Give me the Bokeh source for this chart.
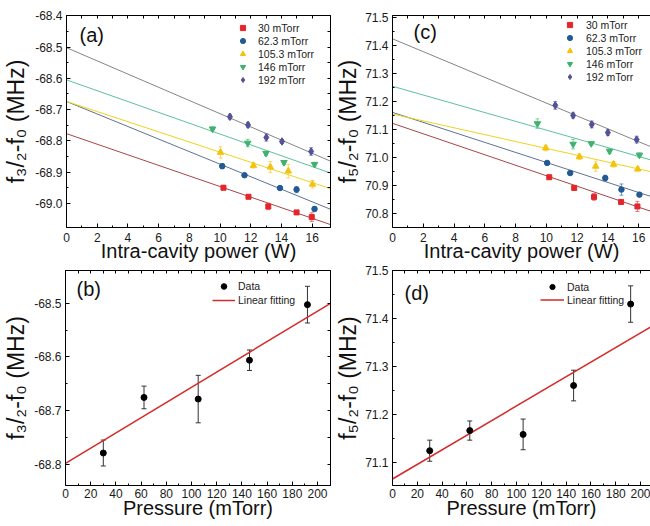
import numpy as np
from bokeh.plotting import figure
from bokeh.models import (ColumnDataSource, Whisker, TeeHead, Label, Legend, LegendItem,
                          LinearAxis, Range1d, FixedTicker, PrintfTickFormatter)
from bokeh.layouts import column, row
from bokeh.embed import file_html
from bokeh.resources import INLINE

FONT = "Liberation Sans"

# ---------------- data ----------------
series_labels = ["30 mTorr", "62.3 mTorr", "105.3 mTorr", "146 mTorr", "192 mTorr"]
pressure = [30, 62.3, 105.3, 146, 192]

# panel (a): f3/2 - f0 vs intra-cavity power
a_power = [
    [10.22, 11.85, 13.14, 14.98, 15.97],
    [10.14, 11.59, 13.90, 14.98, 16.15],
    [10.03, 12.17, 13.27, 14.44, 16.02],
    [9.51, 11.80, 12.99, 14.16, 16.15],
    [10.64, 11.82, 13.01, 14.03, 15.93],
]
a_shift = [
    [-68.950, -68.979, -69.010, -69.029, -69.044],
    [-68.881, -68.910, -68.951, -68.956, -69.018],
    [-68.837, -68.879, -68.884, -68.897, -68.939],
    [-68.762, -68.807, -68.840, -68.869, -68.875],
    [-68.723, -68.749, -68.789, -68.802, -68.834],
]
a_err = [
    [0.007, 0.004, 0.010, 0.006, 0.014],
    [0.008, 0.005, 0.004, 0.010, 0.008],
    [0.018, 0.008, 0.018, 0.022, 0.012],
    [0.007, 0.012, 0.007, 0.006, 0.006],
    [0.008, 0.008, 0.012, 0.006, 0.012],
]
a_fit_intercept = [-68.777, -68.674, -68.674, -68.605, -68.502]
a_fit_slope = [-0.01693, -0.02007, -0.01623, -0.01734, -0.02112]

# panel (c): f5/2 - f0 vs intra-cavity power
c_power = [
    [10.19, 11.81, 13.10, 14.86, 15.92],
    [10.05, 11.55, 13.83, 14.88, 16.05],
    [9.96, 12.15, 13.21, 14.37, 15.94],
    [9.42, 11.74, 12.92, 14.11, 16.05],
    [10.58, 11.74, 12.95, 14.00, 15.87],
]
c_shift = [
    [70.930, 70.892, 70.860, 70.842, 70.826],
    [70.981, 70.945, 70.927, 70.886, 70.868],
    [71.034, 71.003, 70.969, 70.976, 70.959],
    [71.121, 71.048, 71.050, 71.023, 71.009],
    [71.186, 71.150, 71.118, 71.089, 71.064],
]
c_err = [
    [0.005, 0.006, 0.012, 0.006, 0.018],
    [0.006, 0.006, 0.010, 0.020, 0.006],
    [0.010, 0.010, 0.018, 0.010, 0.007],
    [0.017, 0.017, 0.005, 0.008, 0.008],
    [0.014, 0.009, 0.012, 0.010, 0.012],
]
c_fit_intercept = [71.122, 71.161, 71.155, 71.254, 71.423]
c_fit_slope = [-0.01866, -0.01783, -0.01222, -0.01562, -0.0229]

# panel (b) and (d): zero-power intercepts vs pressure
b_shift = [-68.778, -68.675, -68.678, -68.606, -68.503]
b_err = [0.024, 0.021, 0.044, 0.019, 0.034]
b_fit = [-68.797, 0.00141]

d_shift = [71.124, 71.166, 71.158, 71.260, 71.430]
d_err = [0.022, 0.020, 0.032, 0.032, 0.038]
d_fit = [71.065, 0.001524]

power_ticks = [0, 2, 4, 6, 8, 10, 12, 14, 16]
pressure_ticks = [0, 20, 40, 60, 80, 100, 120, 140, 160, 180, 200]
a_yticks = [-69.0, -68.9, -68.8, -68.7, -68.6, -68.5, -68.4]
c_yticks = [70.8, 70.9, 71.0, 71.1, 71.2, 71.3, 71.4, 71.5]
b_yticks = [-68.8, -68.7, -68.6, -68.5]
d_yticks = [71.1, 71.2, 71.3, 71.4, 71.5]

# ---------------- styles ----------------
marker_colors = ["#e3262b", "#225a94", "#f5c20c", "#3db36e", "#525199"]
line_colors = ["#a84646", "#5e7391", "#efd21e", "#5fbf9e", "#858585"]
markers = ["square", "circle", "triangle", "inverted_triangle", "diamond"]
marker_sizes = [5, 5.5, 6.5, 6.5, 7.5]


def minor_between(ticks):
    t = np.array(ticks, dtype=float)
    return list((t[:-1] + t[1:]) / 2)


def base_axis_style(ax):
    ax.axis_line_color = "black"
    ax.major_tick_line_color = "black"
    ax.minor_tick_line_color = "black"
    ax.major_tick_out = 0
    ax.minor_tick_out = 0


def style_axis(ax, ticks, fmt=None):
    ax.ticker = FixedTicker(ticks=ticks, minor_ticks=minor_between(ticks))
    if fmt:
        ax.formatter = PrintfTickFormatter(format=fmt)
    base_axis_style(ax)
    ax.major_tick_in = 4
    ax.minor_tick_in = 2
    ax.major_label_text_font = FONT
    ax.major_label_text_color = "#1a1a1a"
    ax.major_label_text_font_size = "12px"
    ax.major_label_standoff = 4


def mirror_axis(ticks):
    # mirrored frame side: tick marks only, no labels
    allt = sorted(list(ticks) + minor_between(ticks))
    ax = LinearAxis(ticker=FixedTicker(ticks=[], minor_ticks=allt))
    base_axis_style(ax)
    ax.major_tick_in = 0
    ax.minor_tick_in = 3
    ax.major_label_standoff = 0
    return ax


def make_fig(w, h, xr, yr, bl, br, bt, bb, xticks, yticks, xlabel, tick_standoff, xlabel_standoff,
             ylabel, ylabel_standoff, right_axis=True):
    p = figure(width=w, height=h, x_range=Range1d(*xr), y_range=Range1d(*yr),
               output_backend="svg", toolbar_location=None,
               min_border_left=bl, min_border_right=br, min_border_top=bt, min_border_bottom=bb)
    p.grid.visible = False
    p.background_fill_color = "white"
    p.border_fill_color = "white"
    p.outline_line_color = "black" if right_axis else None
    style_axis(p.xaxis[0], xticks)
    style_axis(p.yaxis[0], yticks, "%.1f")
    xa = p.xaxis[0]
    xa.major_label_standoff = tick_standoff
    xa.axis_label = xlabel
    xa.axis_label_text_font = FONT
    xa.axis_label_text_font_size = "20px"
    xa.axis_label_text_font_style = "normal"
    xa.axis_label_text_color = "#111111"
    xa.axis_label_standoff = xlabel_standoff
    ya = p.yaxis[0]
    ya.axis_label = ylabel
    ya.axis_label_text_font = FONT
    ya.axis_label_text_font_size = "23px"
    ya.axis_label_text_font_style = "normal"
    ya.axis_label_text_color = "#111111"
    ya.axis_label_standoff = ylabel_standoff
    p.add_layout(mirror_axis(xticks), "above")
    if right_axis:
        p.add_layout(mirror_axis(yticks), "right")
    return p


def add_panel_label(p, text, x, y):
    p.add_layout(Label(x=x, y=y, x_units="screen", y_units="screen", text=text,
                       text_font=FONT, text_font_size="20px", text_baseline="middle",
                       text_align="left", text_color="#111111"))


def power_panel(p, powers, shifts, errs, intercepts, slopes, xmax, legend_loc, standoff):
    xs = np.array([0.0, xmax])
    items = []
    for i in range(5):
        p.line(xs, intercepts[i] + slopes[i] * xs, line_color=line_colors[i], line_width=1)
    for i in range(5):
        y = np.array(shifts[i])
        e = np.array(errs[i])
        src = ColumnDataSource(dict(x=powers[i], y=y, upper=y + e, lower=y - e))
        p.add_layout(Whisker(base="x", upper="upper", lower="lower", source=src,
                             line_color=marker_colors[i], line_alpha=0.6, line_width=1,
                             upper_head=TeeHead(size=4, line_color=marker_colors[i], line_alpha=0.6),
                             lower_head=TeeHead(size=4, line_color=marker_colors[i], line_alpha=0.6)))
        r = p.scatter("x", "y", source=src, marker=markers[i], size=marker_sizes[i],
                      fill_color=marker_colors[i], line_color=marker_colors[i])
        items.append(LegendItem(label=series_labels[i], renderers=[r]))
    leg = Legend(items=items, location=legend_loc, orientation="vertical", padding=0, margin=0,
                 spacing=0, label_height=13, glyph_height=13, glyph_width=13, label_standoff=standoff,
                 label_text_font=FONT, label_text_font_size="10.5px", label_text_color="#222222",
                 border_line_color=None, background_fill_alpha=0)
    p.add_layout(leg)


def pressure_panel(p, shifts, errs, fit, xmax, legend_loc, glyph_w, row_h):
    xs = np.array([0.0, xmax])
    lr = p.line(xs, fit[0] + fit[1] * xs, line_color="#d42a2a", line_width=1.5)
    y = np.array(shifts)
    e = np.array(errs)
    src = ColumnDataSource(dict(x=pressure, y=y, upper=y + e, lower=y - e))
    p.add_layout(Whisker(base="x", upper="upper", lower="lower", source=src,
                         line_color="#333333", line_width=1,
                         upper_head=TeeHead(size=5, line_color="#333333"),
                         lower_head=TeeHead(size=5, line_color="#333333")))
    r = p.scatter("x", "y", source=src, marker="circle", size=6, fill_color="black", line_color="black")
    leg = Legend(items=[LegendItem(label="Data", renderers=[r]), LegendItem(label="Linear fitting", renderers=[lr])],
                 location=legend_loc, orientation="vertical", padding=0, margin=0, spacing=0,
                 label_height=row_h, glyph_height=row_h, glyph_width=glyph_w, label_standoff=3,
                 label_text_font=FONT, label_text_font_size="10.5px", label_text_color="#222222",
                 border_line_color=None, background_fill_alpha=0)
    p.add_layout(leg)


Y32 = "f\u2083/\u2082-f\u2080 (MHz)"
Y52 = "f\u2085/\u2082-f\u2080 (MHz)"

# ---------------- panels ----------------
A_X = (0, 17.19)
pa = make_fig(332, 264, A_X, (-69.0773, -68.399), 65, 2, 13, 36,
              power_ticks, a_yticks, "Intra-cavity power (W)", 5, -5, Y32, 3)
power_panel(pa, a_power, a_shift, a_err, a_fit_intercept, a_fit_slope, A_X[1], (170, 141), 9)
add_panel_label(pa, "(a)", 13, 193)

C_X = (0, 16.77)
pc = make_fig(318, 264, C_X, (70.751, 71.506), 58, 0, 15, 36,
              power_ticks, c_yticks, "Intra-cavity power (W)", 5, -5, Y52, 1, right_axis=False)
power_panel(pc, c_power, c_shift, c_err, c_fit_intercept, c_fit_slope, C_X[1], (171, 144), 10)
add_panel_label(pc, "(c)", 21, 196)

B_X = (0, 210.3)
pb = make_fig(332, 262, B_X, (-68.8382, -68.4397), 65, 2, 5, 41,
              pressure_ticks, b_yticks, "Pressure (mTorr)", 3, -4, Y32, 2)
pressure_panel(pb, b_shift, b_err, b_fit, B_X[1], (147, 178), 23, 14)
add_panel_label(pb, "(b)", 11, 197)

D_X = (0, 208.0)
pd_ = make_fig(318, 262, D_X, (71.0514, 71.5), 58, 0, 6, 41,
               pressure_ticks, d_yticks, "Pressure (mTorr)", 3, -4, Y52, 1, right_axis=False)
pressure_panel(pd_, d_shift, d_err, d_fit, D_X[1], (148, 179), 24, 13)
add_panel_label(pd_, "(d)", 12, 193)

layout = column(row(pa, pc), row(pb, pd_))
open("out.html", "w").write(file_html(layout, INLINE))
